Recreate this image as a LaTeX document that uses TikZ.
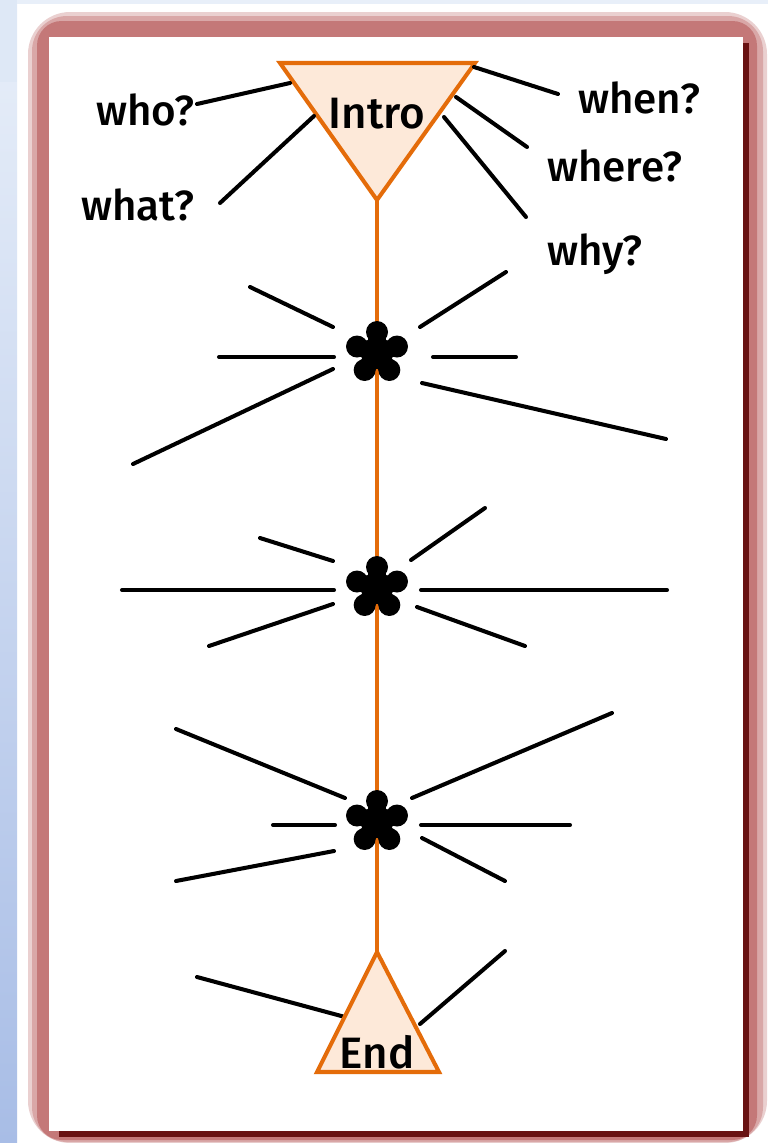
\documentclass[tikz,border=0pt]{standalone}
\usepackage{fontspec}
\setmainfont{Fira Sans Medium}
\usetikzlibrary{calc}
\definecolor{spineorange}{RGB}{228,108,10}
\definecolor{trifill}{RGB}{253,233,217}
\definecolor{framepink}{RGB}{196,120,120}
\definecolor{framedark}{RGB}{105,18,18}
\definecolor{stripblue}{RGB}{168,189,230}
\definecolor{stripsky}{RGB}{232,239,249}

\tikzset{
  spoke/.style={line width=2.3pt, black, line cap=round},
  spine/.style={line width=1.9pt, spineorange},
  tri/.style={line width=2.3pt, draw=spineorange, fill=trifill, line join=miter},
  word/.style={font=\fontsize{24}{24}\selectfont, inner sep=0pt, anchor=base west},
  title/.style={font=\fontsize{25}{25}\selectfont, inner sep=0pt, anchor=base},
  petal/.style={line width=10pt, black, line cap=round},
}

% five-petal star at a named coordinate
\newcommand{\petalstar}[1]{%
  \fill[black] (#1) circle (16);
  \foreach \ang in {-90,-18,54,126,198}{
    \draw[petal] (#1) -- ($(#1)+(\ang:21)$);
    \fill[black] ($(#1)+(\ang:21)$) circle (11);
  }
}

\begin{document}
\begin{tikzpicture}[x=0.02cm,y=-0.02cm]
\useasboundingbox (0,0) rectangle (768,1143);
% Background
\fill[white] (0,0) rectangle (768,1143);
\fill[stripsky] (0,0) rectangle (768,4); % top strip
\shade[top color=stripsky, bottom color=stripblue] (0,0) rectangle (17,1143); % left strip
\fill[stripsky!85!stripblue] (0,0) rectangle (17,82);
% Frame
\fill[framepink!35, rounded corners=24] (28,12) rectangle (767,1143);
\fill[framepink!65, rounded corners=20] (32,16) rectangle (763,1142);
\fill[framepink, rounded corners=14] (37,21) rectangle (757,1140);
\fill[framedark] (59,43) rectangle (749,1137); % shadow
\fill[white] (49,37) rectangle (743,1131); % page
% Points
\coordinate (introL) at (280,63);
\coordinate (introR) at (475,63);
\coordinate (introB) at (377,200);
\coordinate (endA) at (377,952);
\coordinate (endL) at (317,1072);
\coordinate (endR) at (439,1072);
\coordinate (star1) at (377,353);
\coordinate (star2) at (377,588);
\coordinate (star3) at (377,822);
% Spine
\draw[spine] (introB) -- (endA);
% Intro
\filldraw[tri] (introL) -- (introR) -- (introB) -- cycle;
\node[title] (intro) at (377,128) {Intro};
\node[word] (who) at (96,125) {who?};
\node[word] (what) at (81,220) {what?};
\node[word] (when) at (578,113) {when?};
\node[word] (where) at (547,181) {where?};
\node[word] (why) at (547,265) {why?};
\draw[spoke] (197,104) -- (290,83); % who
\draw[spoke] (220,203) -- (314,116); % what
\draw[spoke] (474,67) -- (558,94); % when
\draw[spoke] (456,97) -- (527,147); % where
\draw[spoke] (444,117) -- (526,217); % why
% Star 1
\petalstar{star1}
\draw[spoke] (250,287) -- (333,327);
\draw[spoke] (219,357) -- (334,357);
\draw[spoke] (133,464) -- (333,369);
\draw[spoke] (420,327) -- (506,272);
\draw[spoke] (433,357) -- (516,357);
\draw[spoke] (422,383) -- (666,439);
% Star 2
\petalstar{star2}
\draw[spoke] (260,538) -- (333,561);
\draw[spoke] (122,590) -- (334,590);
\draw[spoke] (209,646) -- (333,604);
\draw[spoke] (411,560) -- (485,508);
\draw[spoke] (421,590) -- (667,590);
\draw[spoke] (417,607) -- (525,646);
% Star 3
\petalstar{star3}
\draw[spoke] (176,729) -- (345,798);
\draw[spoke] (273,825) -- (335,825);
\draw[spoke] (176,881) -- (334,851);
\draw[spoke] (412,798) -- (612,713);
\draw[spoke] (421,825) -- (570,825);
\draw[spoke] (422,838) -- (505,881);
% End
\draw[spoke] (197,977) -- (345,1017);
\draw[spoke] (420,1024) -- (505,951);
\filldraw[tri] (endA) -- (endR) -- (endL) -- cycle;
\node[title] (end) at (377,1068) {End};
\end{tikzpicture}
\end{document}
